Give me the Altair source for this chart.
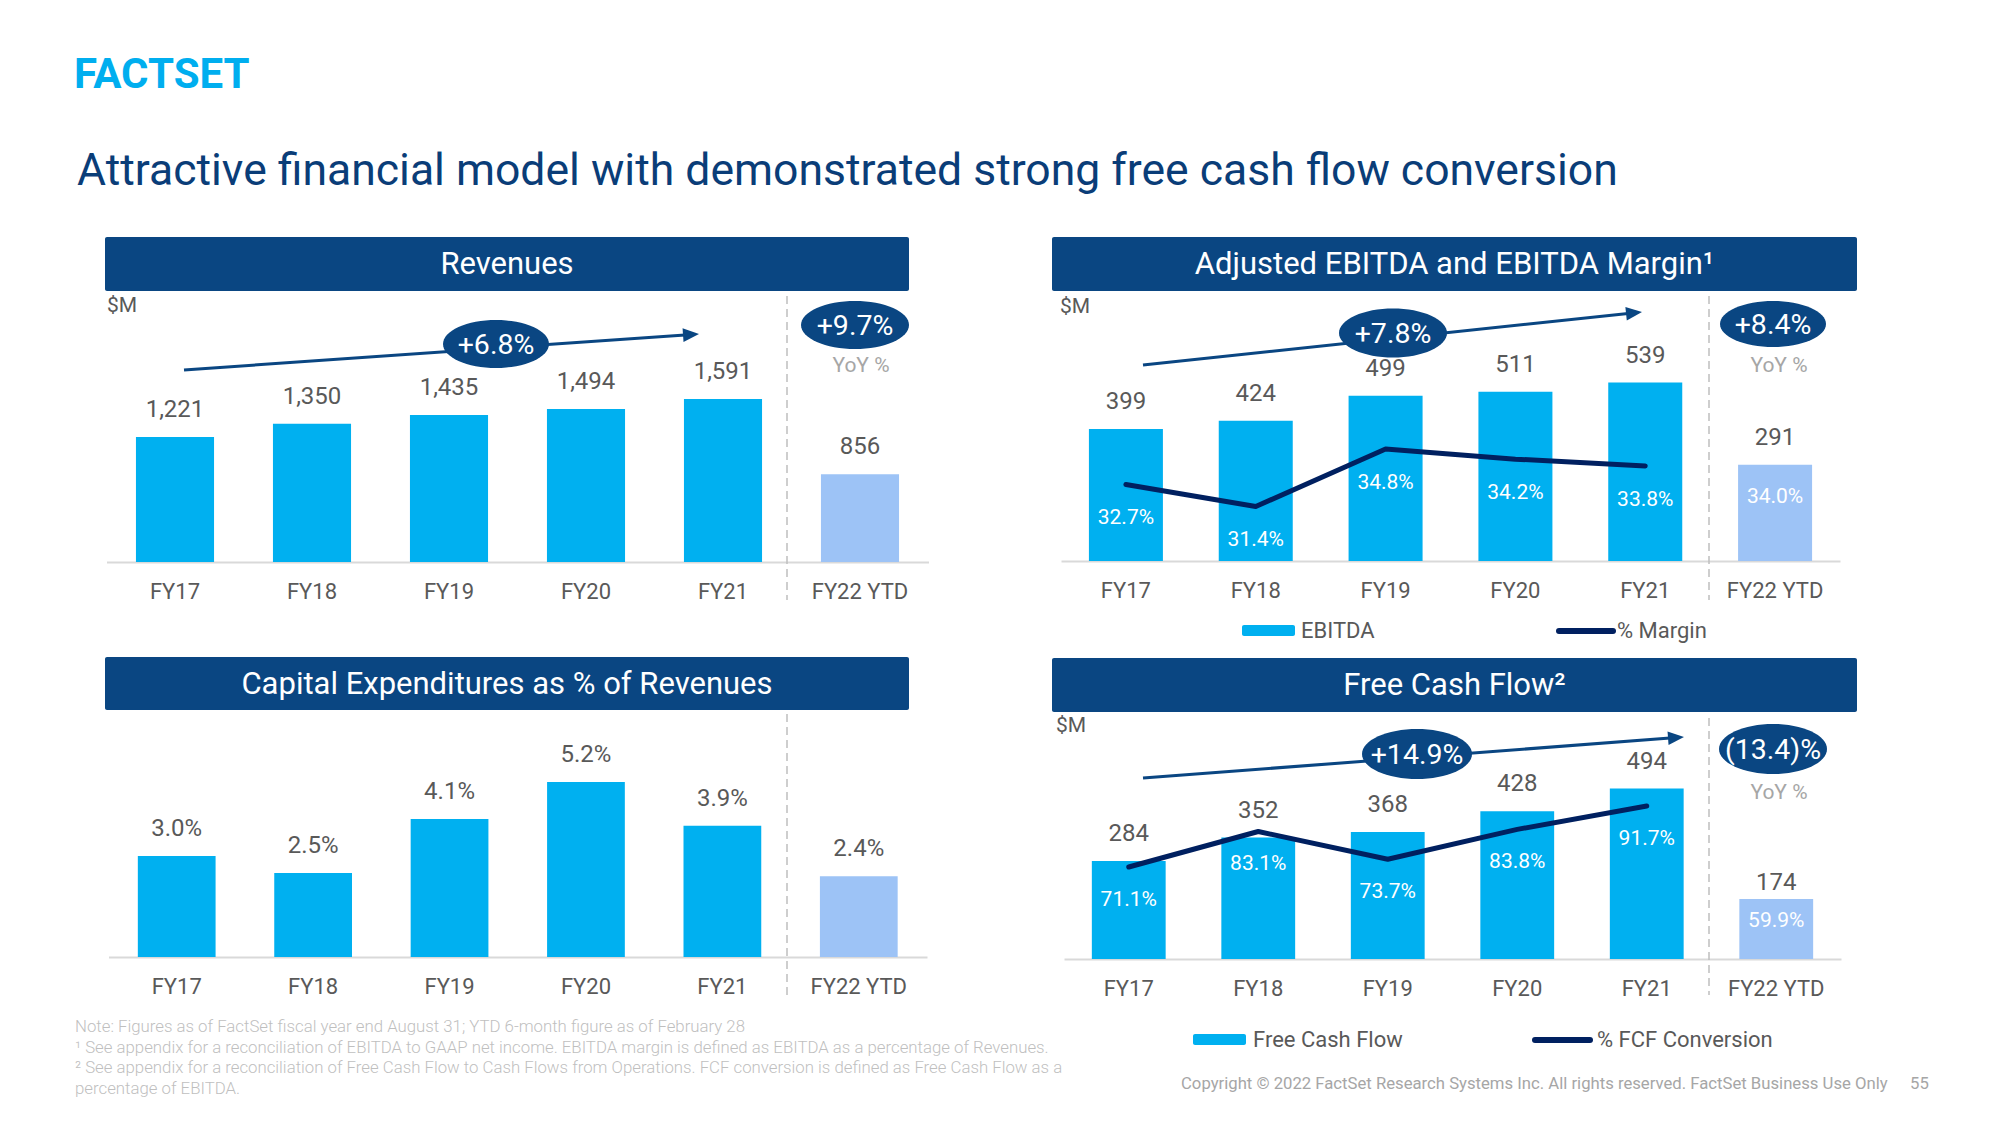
import math
import altair as alt
import pandas as pd

# ---------------- data ----------------
years = ["FY17", "FY18", "FY19", "FY20", "FY21", "FY22 YTD"]
revenues = [1221, 1350, 1435, 1494, 1591, 856]
ebitda = [399, 424, 499, 511, 539, 291]
ebitda_margin = [32.7, 31.4, 34.8, 34.2, 33.8, 34.0]
capex_pct = [3.0, 2.5, 4.1, 5.2, 3.9, 2.4]
fcf = [284, 352, 368, 428, 494, 174]
fcf_conversion = [71.1, 83.1, 73.7, 83.8, 91.7, 59.9]

cagr_rev, yoy_rev = "+6.8%", "+9.7%"
cagr_ebitda, yoy_ebitda = "+7.8%", "+8.4%"
cagr_fcf, yoy_fcf = "+14.9%", "(13.4)%"

panel_titles = ["Revenues", "Adjusted EBITDA and EBITDA Margin\u00b9",
                "Capital Expenditures as % of Revenues", "Free Cash Flow\u00b2"]
slide_title = "Attractive financial model with demonstrated strong free cash flow conversion"
footnotes = [
    "Note: Figures as of FactSet fiscal year end August 31; YTD 6-month figure as of February 28",
    "\u00b9 See appendix for a reconciliation of EBITDA to GAAP net income.  EBITDA margin is defined as EBITDA as a percentage of Revenues.",
    "\u00b2 See appendix for a reconciliation of Free Cash Flow  to Cash Flows from Operations. FCF conversion is defined as Free Cash Flow as a",
    "percentage of EBITDA.",
]
copyright_text = "Copyright \u00a9 2022 FactSet Research Systems Inc. All rights reserved. FactSet Business Use Only"
page_number = "55"

df = pd.DataFrame({
    "idx": list(range(len(years))),
    "year": years,
    "revenue": revenues,
    "ebitda": ebitda,
    "margin": ebitda_margin,
    "capex": capex_pct,
    "fcf": fcf,
    "conv": fcf_conversion,
})
one = pd.DataFrame({"k": [0]})

# ---------------- styles ----------------
FONT = "Roboto"
CYAN = "#00B0F0"
LIGHT = "#9DC3F6"
NAVY = "#0A4682"
LINE = "#002060"
GRAY = "#595959"
LGRAY = "#A6A6A6"
NOTE = "#BFBFBF"
W, H = 1984, 1109
M = 8  # page margin


def px(v):
    return v - M


layers = []


def deco_text(s, x, y, size, color, align="left", weight="normal", baseline="middle"):
    layers.append(alt.Chart(one).mark_text(
        text=s, font=FONT, fontSize=size, color=color, align=align,
        baseline=baseline, fontWeight=weight
    ).encode(x=alt.value(px(x)), y=alt.value(px(y))))


def deco_rect(x0, y0, x1, y1, color):
    layers.append(alt.Chart(one).mark_rect(color=color, cornerRadius=2).encode(
        x=alt.value(px(x0)), x2=alt.value(px(x1)), y=alt.value(px(y0)), y2=alt.value(px(y1))))


def deco_rule(x0, y0, x1, y1, color, width, dash=None, cap="butt"):
    kw = dict(color=color, strokeWidth=width, strokeCap=cap)
    if dash:
        kw["strokeDash"] = dash
    layers.append(alt.Chart(one).mark_rule(**kw).encode(
        x=alt.value(px(x0)), x2=alt.value(px(x1)), y=alt.value(px(y0)), y2=alt.value(px(y1))))


def ellipse(cx, cy, w, h, color, label, size=28.5):
    ry = h / w
    pts = []
    for i in range(64):
        t = 2 * math.pi * i / 64
        pts.append(f"{math.cos(t):.4f},{ry * math.sin(t):.4f}")
    path = "M" + " L".join(pts) + " Z"
    layers.append(alt.Chart(one).mark_point(
        shape=path, filled=True, fill=color, opacity=1, size=w * w, strokeWidth=0
    ).encode(x=alt.value(px(cx)), y=alt.value(px(cy))))
    deco_text(label, cx, cy + 1, size, "white", align="center")


def arrow(x0, y0, x1, y1, color):
    ang = math.atan2(y1 - y0, x1 - x0)
    L = 16
    bx, by = x1 - L * math.cos(ang), y1 - L * math.sin(ang)
    deco_rule(x0, y0, bx + 2 * math.cos(ang), by + 2 * math.sin(ang), color, 3)
    cx, cy = x1 - L / 2 * math.cos(ang), y1 - L / 2 * math.sin(ang)
    deg = math.degrees(ang) % 360
    layers.append(alt.Chart(one).mark_point(
        shape="M1,0 L-1,-0.85 L-1,0.85 Z", filled=True, fill=color, opacity=1,
        size=L * L, angle=deg, strokeWidth=0
    ).encode(x=alt.value(px(cx)), y=alt.value(px(cy))))


def xenc(xr, offset=None):
    sc = alt.Scale(type="band", domain=years, range=[px(xr[0]), px(xr[1])],
                   paddingInner=0.43, paddingOuter=0.215)
    if offset is None:
        return alt.X("year:N", sort=years, scale=sc, axis=None, bandPosition=0.5)
    ax = alt.Axis(orient="bottom", offset=offset, domain=True, domainColor="#D9D9D9",
                  domainWidth=2, ticks=False, grid=False, labelFontSize=22,
                  labelColor=GRAY, labelFont=FONT, labelPadding=19, labelAngle=0,
                  labelOverlap=False, title=None)
    return alt.X("year:N", sort=years, scale=sc, axis=ax, title=None)


def yenc(field, dom, yr, zero=True):
    return alt.Y(f"{field}:Q", scale=alt.Scale(domain=dom, range=[px(yr[0]), px(yr[1])],
                                               nice=False, zero=zero), axis=None)


is_ytd = alt.datum.year == "FY22 YTD"


def bar_panel(field, xr, baseline, dom, ytop, label_expr, dy_ytd=-27):
    offset = px(baseline) - H
    Y = yenc(field, dom, (baseline, ytop))
    layers.append(alt.Chart(df).mark_bar().encode(
        x=xenc(xr, offset), y=Y,
        color=alt.when(is_ytd).then(alt.value(LIGHT)).otherwise(alt.value(CYAN))))
    for flt, dy in ((~is_ytd, -27), (is_ytd, dy_ytd)):
        layers.append(alt.Chart(df).transform_filter(flt).transform_calculate(lbl=label_expr).mark_text(
            dy=dy, font=FONT, fontSize=24, color=GRAY, baseline="middle"
        ).encode(x=xenc(xr), y=Y, text="lbl:N"))


def ratio_panel(field, xr, dom, yr, dy_main, dy_ytd):
    Y = yenc(field, dom, yr, zero=False)
    layers.append(alt.Chart(df).transform_filter(~is_ytd).mark_line(
        color=LINE, strokeWidth=5, strokeCap="round", strokeJoin="round"
    ).encode(x=xenc(xr), y=Y, order=alt.Order("idx:Q")))
    lbl = f"format(datum.{field}, '.1f') + '%'"
    layers.append(alt.Chart(df).transform_filter(~is_ytd).transform_calculate(lbl=lbl).mark_text(
        dy=dy_main, font=FONT, fontSize=21, color="white", baseline="middle"
    ).encode(x=xenc(xr), y=Y, text="lbl:N"))
    layers.append(alt.Chart(df).transform_filter(is_ytd).transform_calculate(lbl=lbl).mark_text(
        dy=dy_ytd, font=FONT, fontSize=21, color="white", baseline="middle"
    ).encode(x=xenc(xr), y=Y, text="lbl:N"))


# ---------------- slide header ----------------
deco_text("FACTSET", 74, 75, 42, "#00AEEF", weight="bold")
deco_text(slide_title, 77, 172, 44.5, "#0A3D78")

# ---------------- panel headers ----------------
for (x0, y0, x1, y1), t in zip([(105, 237, 909, 291), (1052, 237, 1857, 291),
                                (105, 657, 909, 710), (1052, 658, 1857, 712)], panel_titles):
    deco_rect(x0, y0, x1, y1, NAVY)
    deco_text(t, (x0 + x1) / 2, (y0 + y1) / 2 + 1, 31, "white", align="center")

# ---------------- Revenues ----------------
bar_panel("revenue", (106.5, 928.5), 562, [0, 2000], 562 - 2000 * 0.10245,
          "format(datum.revenue, ',')")
deco_text("$M", 107, 306, 21, GRAY)
deco_rule(787, 296, 787, 600, NOTE, 1.5, dash=[8, 5])
arrow(184, 370, 699, 334, NAVY)
ellipse(496, 344, 106, 48, NAVY, cagr_rev)
ellipse(855, 325, 108, 48, NAVY, yoy_rev)
deco_text("YoY %", 861, 366, 21, LGRAY, align="center")

# ---------------- EBITDA ----------------
bar_panel("ebitda", (1061, 1840), 561, [0, 600], 561 - 600 * 0.331,
          "format(datum.ebitda, 'd')")
ratio_panel("margin", (1061, 1840), [28, 36],
            (449 + 6.8 * 16.9, 449 - 1.2 * 16.9), 34, 34)
deco_text("$M", 1060, 307, 21, GRAY)
deco_rule(1709, 296, 1709, 600, NOTE, 1.5, dash=[8, 5])
arrow(1143, 365, 1642, 312, NAVY)
ellipse(1393, 333, 108, 49, NAVY, cagr_ebitda)
ellipse(1773, 324, 106, 46, NAVY, yoy_ebitda)
deco_text("YoY %", 1779, 366, 21, LGRAY, align="center")
deco_rect(1242, 625, 1295, 636, CYAN)
deco_text("EBITDA", 1301, 631, 22, GRAY)
deco_rule(1559, 631, 1613, 631, LINE, 6, cap="round")
deco_text("% Margin", 1617, 631, 22, GRAY)

# ---------------- CapEx ----------------
bar_panel("capex", (108.5, 927), 957, [0, 6], 957 - 6 * 33.65,
          "format(datum.capex, '.1f') + '%'")
deco_rule(787, 714, 787, 995, NOTE, 1.5, dash=[8, 5])

# ---------------- Free Cash Flow ----------------
bar_panel("fcf", (1064, 1841), 959, [0, 600], 959 - 600 * 0.345,
          "format(datum.fcf, 'd')", dy_ytd=-16)
ratio_panel("conv", (1064, 1841), [40, 100],
            (867 + 31.1 * 2.96, 867 - 28.9 * 2.96), 33, 21)
deco_text("$M", 1056, 726, 21, GRAY)
deco_rule(1709, 718, 1709, 995, NOTE, 1.5, dash=[8, 5])
arrow(1143, 778, 1684, 737, NAVY)
ellipse(1417, 754, 110, 50, NAVY, cagr_fcf)
ellipse(1773, 749, 108, 50, NAVY, yoy_fcf)
deco_text("YoY %", 1779, 793, 21, LGRAY, align="center")
deco_rect(1193, 1034, 1246, 1045, CYAN)
deco_text("Free Cash Flow", 1253, 1040, 22, GRAY)
deco_rule(1535, 1040, 1590, 1040, LINE, 6, cap="round")
deco_text("% FCF Conversion", 1597, 1040, 22, GRAY)

# ---------------- footer ----------------
for i, line in enumerate(footnotes):
    deco_text(line, 75, 1027 + i * 20.5, 16.8, NOTE, weight=300)
deco_text(copyright_text, 1181, 1084, 16.7, LGRAY)
deco_text(page_number, 1910, 1084, 16.7, LGRAY)

chart = alt.layer(*layers).resolve_scale(
    x="independent", y="independent"
).properties(
    width=W, height=H, autosize=alt.AutoSizeParams(type="none"), padding=0,
    background="white"
).configure_view(stroke=None)

chart.save("out.html", embed_options={"renderer": "svg", "actions": False})
